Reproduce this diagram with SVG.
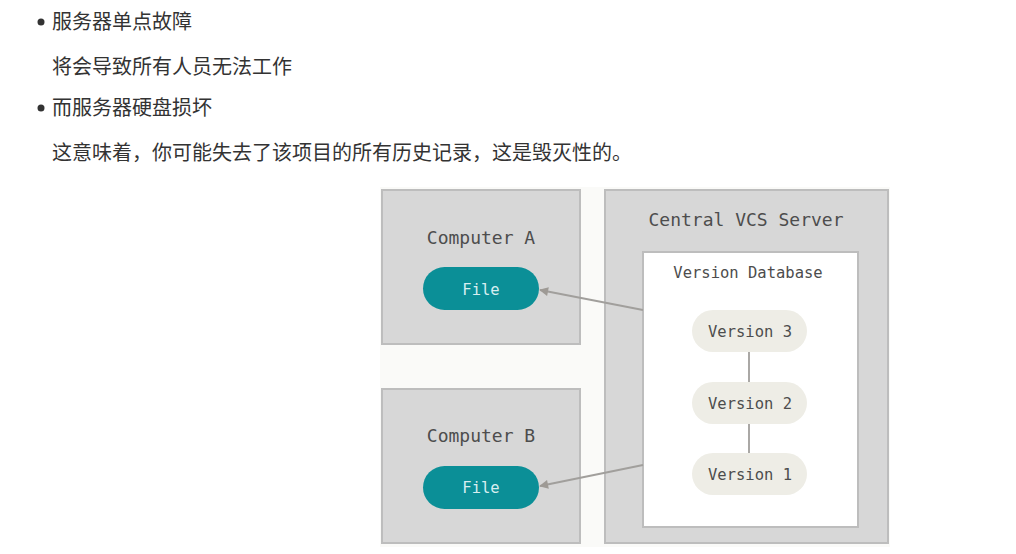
<svg xmlns="http://www.w3.org/2000/svg" width="1016" height="554" viewBox="0 0 1016 554">
<style>
.cn{font-family:"Noto Sans CJK SC","Noto Sans",sans-serif;font-size:20px;fill:#333}
.mono{font-family:"DejaVu Sans Mono","Liberation Mono",monospace;fill:#4d4d4d;text-anchor:middle;dominant-baseline:central}
.box{fill:#d7d7d7;stroke:#bdbdbd;stroke-width:2}
.file{fill:#0b8f97}
.ver{fill:#eeede6}
.edge{stroke:#a19f9c;stroke-width:1.8;fill:none}
</style>
<defs>
<marker id="arr" viewBox="0 0 10 10" refX="9" refY="5" markerWidth="10" markerHeight="9" markerUnits="userSpaceOnUse" orient="auto">
<path d="M0,0 L10,5 L0,10 z" fill="#9e9a95"/>
</marker>
</defs>
<rect width="1016" height="554" fill="#ffffff"/>
<g id="text">
<circle cx="41" cy="22" r="3.5" fill="#333"/>
<text class="cn" x="52" y="29">服务器单点故障</text>
<text class="cn" x="52" y="74">将会导致所有人员无法工作</text>
<circle cx="41" cy="108" r="3.5" fill="#333"/>
<text class="cn" x="52" y="115">而服务器硬盘损坏</text>
<text class="cn" x="52" y="160">这意味着，你可能失去了该项目的所有历史记录，这是毁灭性的。</text>
</g>
<rect x="380" y="187" width="510" height="360" fill="#fafaf8"/>
<g id="computerA">
<rect class="box" x="382" y="190" width="198" height="154"/>
<text class="mono" x="481" y="237" font-size="18">Computer A</text>
<rect class="file" x="423" y="267" width="116" height="43" rx="21.5"/>
<text class="mono" x="481" y="290" font-size="15.5" style="fill:#d8eef0">File</text>
</g>
<g id="computerB">
<rect class="box" x="382" y="389" width="198" height="154"/>
<text class="mono" x="481" y="435" font-size="18">Computer B</text>
<rect class="file" x="423" y="466" width="116" height="43" rx="21.5"/>
<text class="mono" x="481" y="488" font-size="15.5" style="fill:#d8eef0">File</text>
</g>
<g id="server">
<rect class="box" x="605" y="190" width="283" height="353"/>
<text class="mono" x="746" y="219" font-size="18">Central VCS Server</text>
</g>
<g id="database">
<rect x="643" y="252" width="215" height="275" fill="#ffffff" stroke="#bdbdbd" stroke-width="2"/>
<text class="mono" x="748" y="273" font-size="15.5">Version Database</text>
</g>
<g id="connectors">
<line class="edge" x1="749" y1="352" x2="749" y2="382"/>
<line class="edge" x1="749" y1="424" x2="749" y2="453"/>
<line class="edge" x1="643" y1="310" x2="540" y2="290" marker-end="url(#arr)"/>
<line class="edge" x1="643" y1="465" x2="540" y2="486" marker-end="url(#arr)"/>
</g>
<g id="version3">
<rect class="ver" x="692" y="310" width="115" height="42" rx="21"/>
<text class="mono" x="750" y="332" font-size="15.5">Version 3</text>
</g>
<g id="version2">
<rect class="ver" x="692" y="382" width="115" height="42" rx="21"/>
<text class="mono" x="750" y="404" font-size="15.5">Version 2</text>
</g>
<g id="version1">
<rect class="ver" x="692" y="453" width="115" height="42" rx="21"/>
<text class="mono" x="750" y="475" font-size="15.5">Version 1</text>
</g>
</svg>
